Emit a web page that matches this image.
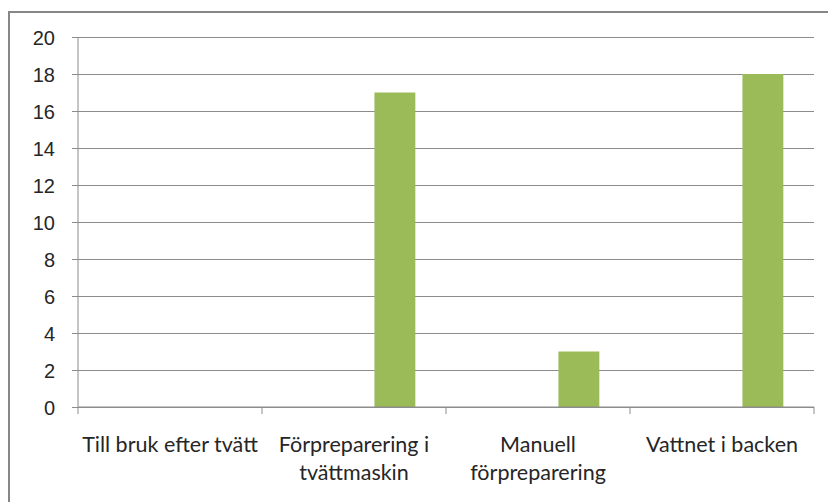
<!DOCTYPE html>
<html>
<head>
<meta charset="utf-8">
<script src="https://cdn.jsdelivr.net/npm/d3@7"></script>
<style>
  body { margin: 0; background: #fff; }
  svg { display: block; font-family: Lato, "Open Sans", sans-serif; }
  .tick text { fill: #262626; }
</style>
</head>
<body>
<div id="chart"></div>
<script>
const width = 828;
const height = 502;

// categories, wrapped the way the original chart wraps them
const categories = [
  ["Till bruk efter tvätt"],
  ["Förpreparering i", "tvättmaskin"],
  ["Manuell", "förpreparering"],
  ["Vattnet i backen"],
];

// three series per category; only the third one has any values
const seriesNames = ["Serie 1", "Serie 2", "Serie 3"];
const series1 = [0, 0, 0, 0];
const series2 = [0, 0, 0, 0];
const series3 = [0, 17, 3, 18];

const yTicks = [0, 2, 4, 6, 8, 10, 12, 14, 16, 18, 20];

const margin = { top: 37, right: 14, bottom: 95, left: 78 };

const svg = d3
  .select("#chart")
  .append("svg")
  .attr("width", width)
  .attr("height", height);

// outer chart frame (cut off at right and bottom in the picture)
svg
  .append("rect")
  .attr("x", 9)
  .attr("y", 12)
  .attr("width", width + 20)
  .attr("height", height + 20)
  .attr("fill", "none")
  .attr("stroke", "#878787")
  .attr("stroke-width", 2);

const x = d3
  .scaleBand()
  .domain(d3.range(categories.length))
  .range([margin.left, width - margin.right]);

// gap width 150% of a bar: 4.5 bar widths per category
const xInner = d3
  .scaleBand()
  .domain(seriesNames)
  .range([0, x.bandwidth()])
  .paddingOuter(0.75);

const y = d3
  .scaleLinear()
  .domain([0, 20])
  .range([height - margin.bottom, margin.top]);

// gridlines + y axis labels
svg
  .append("g")
  .attr("transform", `translate(${margin.left},0)`)
  .call(
    d3
      .axisLeft(y)
      .tickValues(yTicks)
      .tickSize(6)
      .tickPadding(17)
  )
  .call((g) => g.select(".domain").remove())
  .call((g) => g.selectAll(".tick line").attr("stroke", "#8c8c8c"))
  .call((g) =>
    g
      .selectAll(".tick")
      .append("line")
      .attr("class", "grid")
      .attr("x1", 0)
      .attr("x2", width - margin.right - margin.left)
      .attr("stroke", "#8c8c8c")
  )
  .call((g) => g.selectAll("text").attr("font-size", 20).attr("dy", "0.35em"));

svg
  .append("line")
  .attr("x1", margin.left)
  .attr("x2", margin.left)
  .attr("y1", y(20))
  .attr("y2", y(0))
  .attr("stroke", "#8c8c8c");

// bars
const data = categories.map((c, i) => ({
  index: i,
  values: [series1[i], series2[i], series3[i]],
}));

svg
  .append("g")
  .selectAll("g")
  .data(data)
  .join("g")
  .attr("transform", (d) => `translate(${x(d.index)},0)`)
  .selectAll("rect")
  .data((d) => d.values.map((v, k) => ({ name: seriesNames[k], value: v })))
  .join("rect")
  .attr("x", (d) => xInner(d.name))
  .attr("width", xInner.bandwidth())
  .attr("y", (d) => y(d.value))
  .attr("height", (d) => y(0) - y(d.value))
  .attr("fill", "#9bbb59");

// x axis with category boundary ticks
const xAxis = svg.append("g").attr("transform", `translate(0,${y(0)})`);

xAxis
  .append("line")
  .attr("x1", margin.left)
  .attr("x2", width - margin.right)
  .attr("stroke", "#8c8c8c");

xAxis
  .selectAll(".cat-tick")
  .data(d3.range(categories.length + 1))
  .join("line")
  .attr("class", "cat-tick")
  .attr("x1", (i) => margin.left + i * x.step())
  .attr("x2", (i) => margin.left + i * x.step())
  .attr("y1", 0)
  .attr("y2", 7)
  .attr("stroke", "#8c8c8c");

xAxis
  .selectAll(".cat-label")
  .data(categories)
  .join("text")
  .attr("class", "cat-label")
  .attr("text-anchor", "middle")
  .attr("font-size", 21.5)
  .attr("fill", "#262626")
  .attr("x", (d, i) => x(i) + x.bandwidth() / 2)
  .attr("y", 45)
  .selectAll("tspan")
  .data((d) => d)
  .join("tspan")
  .attr("x", function () {
    return this.parentNode.getAttribute("x");
  })
  .attr("dy", (d, i) => (i === 0 ? 0 : 28))
  .text((d) => d);
</script>
</body>
</html>
